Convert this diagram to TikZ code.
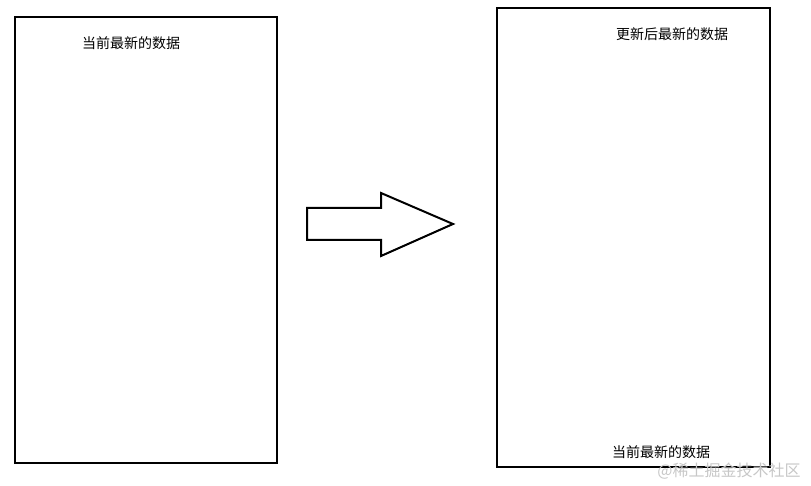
\documentclass[tikz,border=0pt]{standalone}
\usepackage{fontspec}
\newfontfamily\cjk{Noto Sans CJK SC}
\begin{document}
\begin{tikzpicture}[x=1pt,y=-1pt,
	panel/.style={draw, line width=2pt},
	label/.style={font=\cjk\fontsize{14}{16}\selectfont, inner sep=0pt}]
	\useasboundingbox (0,0) rectangle (811,486);
	\draw [panel] (15,17) rectangle (277,463);
	\draw [panel] (497,8) rectangle (770,467);
	\node [label] (old) at (131,43) {当前最新的数据};
	\node [label] (new) at (672,34) {更新后最新的数据};
	\node [label] (kept) at (661,452) {当前最新的数据};
	\draw [line width=2pt, line join=miter]
		(307,208) -- (381,208) -- (381,193) -- (453,224) -- (381,256)
		-- (381,240) -- (307,240) -- cycle;
	\node [font=\cjk\fontsize{16}{18}\selectfont, text=black!22, inner sep=0pt] (mark) at (729,471) {@稀土掘金技术社区};
\end{tikzpicture}
\end{document}
